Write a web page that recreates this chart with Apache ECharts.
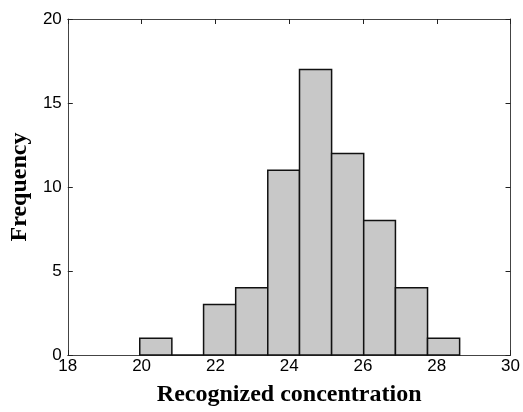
<!DOCTYPE html>
<html>
<head>
<meta charset="utf-8">
<script src="https://cdn.jsdelivr.net/npm/echarts@6/dist/echarts.min.js"></script>
<style>html,body{margin:0;padding:0;background:#fff}#c{width:523px;height:412px}</style>
</head>
<body>
<div id="c"></div>
<script>
const binStarts = [19.95, 20.82, 21.68, 22.55, 23.42, 24.28, 25.15, 26.02, 26.88, 27.75];
const binEnds   = [20.82, 21.68, 22.55, 23.42, 24.28, 25.15, 26.02, 26.88, 27.75, 28.62];
const counts    = [1, 0, 3, 4, 11, 17, 12, 8, 4, 1];
const xTicks = [18, 20, 22, 24, 26, 28, 30];
const yTicks = [0, 5, 10, 15, 20];

const data = counts.map((c, i) => [binStarts[i], binEnds[i], c]);
const chart = echarts.init(document.getElementById('c'), null, {renderer: 'canvas'});
const axisLine = {show: true, onZero: false, lineStyle: {color: '#444', width: 1}};
const tickStyle = {show: true, inside: true, length: 5, lineStyle: {color: '#222', width: 1}};
const labelFont = {color: '#000', fontFamily: 'Liberation Sans, Arial, sans-serif', fontSize: 17};
const titleFont = {color: '#000', fontFamily: 'Liberation Serif, Times New Roman, serif', fontSize: 24, fontWeight: 'bold'};
chart.setOption({
  animation: false,
  backgroundColor: '#fff',
  grid: {left: 67, right: 10, top: 19, bottom: 55, containLabel: false},
  xAxis: [{
    type: 'value', min: xTicks[0], max: xTicks[xTicks.length - 1], interval: 2,
    axisLine: axisLine, axisTick: tickStyle, splitLine: {show: false},
    axisLabel: Object.assign({margin: 3, showMaxLabel: true}, labelFont),
    name: 'Recognized concentration', nameLocation: 'middle', nameGap: 28,
    nameTextStyle: titleFont
  }, {
    type: 'value', position: 'top', min: xTicks[0], max: xTicks[xTicks.length - 1], interval: 2,
    axisLine: axisLine, axisTick: tickStyle, axisLabel: {show: false}, splitLine: {show: false}
  }],
  yAxis: [{
    type: 'value', min: yTicks[0], max: yTicks[yTicks.length - 1], interval: 5,
    axisLine: axisLine, axisTick: tickStyle, splitLine: {show: false},
    axisLabel: Object.assign({margin: 6}, labelFont),
    name: 'Frequency', nameLocation: 'middle', nameGap: 33,
    nameTextStyle: titleFont
  }, {
    type: 'value', position: 'right', min: yTicks[0], max: yTicks[yTicks.length - 1], interval: 5,
    axisLine: axisLine, axisTick: tickStyle, axisLabel: {show: false}, splitLine: {show: false}
  }],
  series: [{
    type: 'custom',
    xAxisIndex: 0, yAxisIndex: 0,
    data: data,
    encode: {x: [0, 1], y: 2},
    renderItem: function (params, api) {
      const p0 = api.coord([api.value(0), 0]);
      const p1 = api.coord([api.value(1), api.value(2)]);
      return {
        type: 'rect',
        shape: {x: p0[0], y: p1[1], width: p1[0] - p0[0], height: p0[1] - p1[1]},
        style: {fill: '#c8c8c8', stroke: '#111', lineWidth: 1.5}
      };
    }
  }]
});
</script>
</body>
</html>
